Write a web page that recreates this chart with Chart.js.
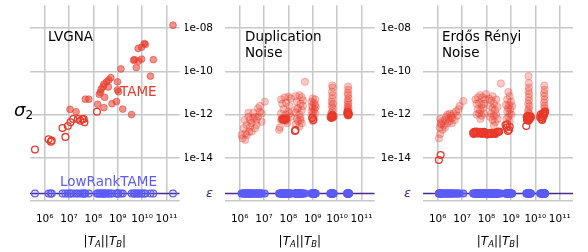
<!DOCTYPE html>
<html>
<head>
<meta charset="utf-8">
<script src="https://cdn.jsdelivr.net/npm/chart.js@4.4.1/dist/chart.umd.min.js"></script>
<style>
  html, body { margin: 0; padding: 0; background: #fff; }
  #wrap { position: relative; width: 588px; height: 252px; overflow: hidden; }
  canvas { position: absolute; top: 0; }
</style>
</head>
<body>
<div id="wrap">
  <canvas id="lvgna" width="185" height="252" style="left:0"></canvas>
  <canvas id="dup" width="195" height="252" style="left:185px"></canvas>
  <canvas id="er" width="208" height="252" style="left:380px"></canvas>
</div>
<script>
// machine epsilon, where LowRankTAME sits
const EPS = 2.22e-16;

const xTicks = [1e6, 1e7, 1e8, 1e9, 1e10, 1e11];
const xTickLabels = ['10⁶', '10⁷', '10⁸', '10⁹', '10¹⁰', '10¹¹'];
const yTicks = [1e-16, EPS, 1e-14, 1e-12, 1e-10, 1e-8];
const yTickLabels = ['', 'ε', '1e-14', '1e-12', '1e-10', '1e-08'];

// [|T_A||T_B|, sigma_2]
const lvgnaFilled = [
  [1.86e11, 1.38e-8], [6.9e9, 1.15e-9], [9.5e9, 1.32e-9], [1.35e10, 1.78e-9], [1.23e10, 1.95e-9],
  [4.9e9, 3.5e-10], [9.5e9, 3.7e-10], [2.9e10, 3.5e-10], [4.5e9, 3.3e-10], [7.2e9, 3.0e-10],
  [5.8e9, 1.5e-10], [1.35e9, 1.3e-10], [2.2e10, 6.0e-11], [5.2e8, 5.1e-11], [3.5e8, 3.3e-11],
  [2.7e8, 2.6e-11], [4.1e8, 1.9e-11], [4.3e8, 4.0e-11], [9.8e8, 3.3e-11], [2.5e8, 1.95e-11],
  [2.1e8, 1.5e-11], [1.95e8, 1.07e-11], [1.75e8, 8.7e-12], [2.9e8, 6.3e-12], [1.07e9, 1.15e-11],
  [9.8e8, 1.4e-11], [4.7e7, 5.2e-12], [6.5e7, 5.2e-12], [1.5e8, 3.0e-12], [2.7e8, 2.1e-12],
  [5.8e8, 3.2e-12], [8.9e8, 4.0e-12], [1.6e9, 1.8e-12], [3.7e9, 1.0e-12], [1.1e7, 1.74e-12],
  [1.95e7, 1.35e-12]
];
const lvgnaOpen = [
  [4.0e5, 2.4e-14], [1.45e6, 7.2e-14], [1.95e6, 6.3e-14], [1.8e6, 5.6e-14], [5.4e6, 2.4e-13],
  [7.1e6, 9.3e-14], [8.9e6, 2.95e-13], [1.15e7, 4.4e-13], [1.48e7, 6.3e-13], [2.3e7, 6.3e-13],
  [2.95e7, 5.2e-13], [3.5e7, 6.3e-13], [4.0e7, 6.3e-13], [4.3e7, 4.4e-13], [1.4e8, 1.35e-12]
];

const dupFilled = [
  // ~1e6 - 1e7
  [1.32e6, 7.94e-14], [1.2e6, 1.15e-13], [1.7e6, 1.35e-13], [1.45e6, 2.34e-13], [1.95e6, 3.31e-13],
  [1.58e6, 5.62e-13], [2.69e6, 5.62e-13], [3.09e6, 3.98e-13], [2.29e6, 1.23e-12], [3.63e6, 1.23e-12],
  [4.27e6, 7.94e-13], [5.75e6, 1.95e-12], [6.76e6, 1.35e-12], [4.9e6, 5.62e-13], [7.94e6, 4.68e-13],
  [1.07e7, 3.98e-12], [3.09e6, 1.62e-13], [1.95e6, 1.15e-13], [2.69e6, 2.75e-13], [4.27e6, 2.34e-13],
  [5.75e6, 7.94e-13], [4.9e6, 3.31e-13], [7.94e6, 1.15e-12], [3.63e6, 6.76e-13], [2.29e6, 7.94e-13],
  [1.7e6, 6.76e-14], [2.45e6, 1.62e-13], [6.76e6, 2.51e-12],
  // ~1e8
  [5.01e7, 5.01e-12], [7.08e7, 6.31e-12], [1.0e8, 6.76e-12], [1.26e8, 5.62e-12], [5.62e7, 3.16e-12],
  [7.94e7, 3.55e-12], [1.12e8, 2.51e-12], [6.31e7, 1.78e-12], [1.0e8, 1.41e-12], [5.01e7, 1.12e-12],
  [7.94e7, 1.0e-12], [5.62e7, 7.08e-13], [7.08e7, 6.31e-13], [8.91e7, 6.31e-13], [6.31e7, 5.62e-13],
  [7.94e7, 5.01e-13], [5.01e7, 5.62e-13], [4.17e7, 2.0e-13], [4.47e7, 2.51e-13], [8.91e7, 3.98e-13],
  [1.26e8, 7.94e-13], [1.12e8, 1.12e-12], [6.61e7, 6.61e-13], [7.59e7, 6.03e-13],
  // ~3e8
  [2.0e8, 7.08e-12], [2.82e8, 7.94e-12], [3.55e8, 6.31e-12], [3.98e8, 4.47e-12], [2.24e8, 3.98e-12],
  [3.16e8, 3.16e-12], [2.51e8, 2.0e-12], [3.55e8, 1.58e-12], [2.0e8, 1.26e-12], [2.82e8, 1.0e-12],
  [3.16e8, 7.08e-13], [2.24e8, 6.31e-13], [2.51e8, 5.01e-13], [2.0e8, 3.55e-13], [2.82e8, 2.82e-13],
  [3.55e8, 3.98e-13], [3.98e8, 2.51e-12], [2.24e8, 1.78e-12], [3.16e8, 5.62e-13], [4.79e8, 3.31e-11],
  // ~1e9
  [1.0e9, 5.62e-12], [1.26e9, 5.01e-12], [8.91e8, 3.98e-12], [1.12e9, 3.55e-12], [1.26e9, 2.82e-12],
  [9.33e8, 2.51e-12], [1.0e9, 2.0e-12], [1.2e9, 1.78e-12], [8.91e8, 1.41e-12], [1.05e9, 1.26e-12],
  [1.26e9, 1.12e-12], [1.0e9, 8.91e-13], [9.33e8, 7.08e-13], [1.12e9, 6.31e-13], [1.0e9, 5.01e-13],
  [1.32e9, 2.24e-12],
  // ~6e9
  [6.31e9, 2.24e-11], [6.61e9, 1.78e-11], [6.17e9, 1.12e-11], [6.46e9, 7.94e-12], [6.31e9, 5.62e-12],
  [6.03e9, 3.98e-12], [6.61e9, 3.16e-12], [6.17e9, 2.51e-12], [6.46e9, 2.0e-12], [6.31e9, 1.41e-12],
  [5.75e9, 1.12e-12], [6.61e9, 1.0e-12], [6.03e9, 8.91e-13], [6.92e9, 8.91e-13], [5.5e9, 7.94e-13],
  [6.31e9, 7.94e-13], [7.24e9, 8.32e-13], [5.89e9, 7.08e-13], [6.76e9, 7.41e-13], [6.17e9, 9.55e-13],
  [5.25e9, 7.59e-13],
  // ~3e10
  [2.82e10, 2.0e-11], [2.88e10, 1.41e-11], [2.75e10, 1.0e-11], [2.82e10, 7.94e-12], [2.95e10, 5.62e-12],
  [2.75e10, 4.47e-12], [2.88e10, 3.55e-12], [2.82e10, 2.82e-12], [2.69e10, 2.24e-12], [2.95e10, 2.0e-12],
  [2.75e10, 1.66e-12], [2.88e10, 1.41e-12], [2.63e10, 1.26e-12], [3.02e10, 1.2e-12], [2.82e10, 1.12e-12],
  [2.69e10, 1.0e-12], [2.95e10, 1.0e-12], [2.82e10, 8.91e-13], [2.57e10, 1.07e-12], [3.09e10, 1.1e-12]
];
const dupOpen = [
  [1.86e8, 1.74e-13], [1.95e8, 1.91e-13],
  [6.31e7, 6.31e-13], [7.08e7, 5.62e-13], [5.62e7, 6.03e-13], [7.94e7, 6.61e-13],
  [1.05e9, 5.62e-13], [9.55e8, 7.08e-13],
  [6.03e9, 8.32e-13], [6.61e9, 7.59e-13], [6.31e9, 9.55e-13], [5.75e9, 7.08e-13],
  [2.75e10, 1.12e-12], [2.88e10, 9.55e-13], [2.69e10, 1.32e-12], [2.95e10, 1.05e-12]
];

const erFilled = [
  // ~1e6 - 1e7
  [1.12e6, 7.94e-14], [1.26e6, 1.26e-13], [1.2e6, 2.51e-13], [1.41e6, 3.55e-13], [1.58e6, 5.01e-13],
  [1.26e6, 6.31e-13], [1.78e6, 3.16e-13], [2.0e6, 5.62e-13], [2.24e6, 7.94e-13], [2.51e6, 3.98e-13],
  [2.82e6, 6.31e-13], [3.16e6, 5.01e-13], [3.55e6, 8.91e-13], [3.98e6, 7.08e-13], [4.47e6, 1.12e-12],
  [5.01e6, 5.62e-13], [6.31e6, 8.91e-13], [5.62e6, 1.41e-12], [7.08e6, 1.78e-12], [7.94e6, 2.51e-12],
  [1.12e7, 4.27e-12], [1.58e6, 2.0e-13], [2.0e6, 2.51e-13], [2.51e6, 1.0e-12], [1.32e6, 3.98e-13],
  [3.16e6, 1.12e-12], [3.8e6, 3.98e-13],
  // ~6e7
  [3.55e7, 5.01e-12], [4.47e7, 6.31e-12], [5.62e7, 7.94e-12], [7.08e7, 6.31e-12], [8.91e7, 5.01e-12],
  [3.98e7, 3.16e-12], [5.01e7, 3.55e-12], [6.31e7, 2.82e-12], [7.94e7, 3.16e-12], [4.47e7, 1.78e-12],
  [5.62e7, 1.58e-12], [7.08e7, 2.0e-12], [3.98e7, 1.0e-12], [5.01e7, 1.12e-12], [6.31e7, 8.91e-13],
  [7.94e7, 1.12e-12], [5.62e7, 6.31e-13], [9.55e7, 8.91e-12],
  // ~2e8
  [1.26e8, 5.62e-12], [1.58e8, 4.47e-12], [2.0e8, 3.16e-12], [2.51e8, 5.01e-12], [1.41e8, 2.51e-12],
  [1.78e8, 2.0e-12], [2.24e8, 1.58e-12], [2.82e8, 2.24e-12], [1.58e8, 1.12e-12], [2.0e8, 8.91e-13],
  [2.51e8, 1.0e-12], [1.78e8, 5.62e-13], [2.24e8, 4.47e-13], [2.0e8, 3.16e-13], [2.82e8, 6.31e-13],
  [1.41e8, 7.94e-13], [3.89e8, 2.75e-11], [1.78e8, 7.08e-12],
  // ~8e8
  [7.94e8, 1.12e-11], [8.91e8, 7.08e-12], [7.08e8, 5.01e-12], [1.0e9, 3.98e-12], [8.32e8, 2.82e-12],
  [7.59e8, 2.0e-12], [9.55e8, 1.78e-12], [7.08e8, 1.41e-12], [8.91e8, 1.12e-12], [1.05e9, 1.0e-12],
  [7.94e8, 7.94e-13], [6.61e8, 6.31e-13], [8.91e8, 5.01e-13], [1.12e9, 2.51e-12], [6.31e8, 2.82e-12],
  // ~5e9
  [5.25e9, 6.03e-11], [5.37e9, 2.82e-11], [5.5e9, 1.78e-11], [5.25e9, 1.26e-11], [5.62e9, 8.91e-12],
  [5.37e9, 6.31e-12], [5.5e9, 4.47e-12], [5.13e9, 3.16e-12], [5.75e9, 2.51e-12], [5.37e9, 1.78e-12],
  [5.01e9, 1.41e-12], [5.62e9, 1.12e-12],
  // ~2e10
  [2.34e10, 2.24e-11], [2.4e10, 1.41e-11], [2.29e10, 1.0e-11], [2.34e10, 7.08e-12], [2.4e10, 5.01e-12],
  [2.29e10, 3.55e-12], [2.34e10, 2.51e-12], [2.4e10, 2.0e-12]
];
const erOpen = [
  [1.32e6, 1.35e-14], [1.12e6, 7.94e-15],
  [2.82e7, 1.41e-13], [3.16e7, 1.58e-13], [3.55e7, 1.41e-13], [3.98e7, 1.51e-13], [4.47e7, 1.32e-13],
  [5.01e7, 1.48e-13], [5.62e7, 1.38e-13], [6.31e7, 1.51e-13], [7.08e7, 1.41e-13], [7.94e7, 1.58e-13],
  [8.91e7, 1.45e-13], [3.02e7, 1.26e-13], [3.8e7, 1.66e-13], [5.25e7, 1.58e-13], [6.61e7, 1.26e-13],
  [1.07e8, 1.2e-13], [1.2e8, 1.26e-13], [1.35e8, 1.32e-13], [1.51e8, 1.26e-13], [1.7e8, 1.35e-13],
  [1.91e8, 1.41e-13], [2.14e8, 1.38e-13], [2.4e8, 1.48e-13], [2.69e8, 1.51e-13], [3.02e8, 1.58e-13],
  [3.31e8, 1.66e-13], [1.15e8, 1.38e-13], [1.58e8, 1.45e-13], [2.29e8, 1.26e-13],
  [6.03e8, 3.31e-13], [8.91e8, 2.75e-13], [7.59e8, 1.74e-13], [7.08e8, 3.55e-13], [8.32e8, 2.0e-13],
  [6.61e8, 2.51e-13],
  [4.47e9, 7.94e-13], [5.01e9, 8.91e-13], [5.62e9, 7.94e-13], [6.31e9, 8.32e-13], [4.79e9, 6.31e-13],
  [5.37e9, 6.61e-13], [6.03e9, 7.08e-13], [4.57e9, 5.62e-13], [5.25e9, 5.25e-13], [5.75e9, 6.03e-13],
  [6.61e9, 7.59e-13], [4.27e9, 2.95e-13],
  [1.66e10, 1.0e-12], [1.82e10, 7.94e-13], [2.0e10, 1.12e-12], [2.19e10, 8.91e-13], [2.4e10, 1.26e-12],
  [1.78e10, 6.31e-13], [2.0e10, 7.08e-13], [2.29e10, 1.0e-12], [2.51e10, 1.41e-12], [1.58e10, 7.59e-13],
  [1.91e10, 5.62e-13], [2.14e10, 1.2e-12]
];

const X_MIN = 2.5e5, X_MAX = 3.5e11;
const Y_MIN = 1e-16, Y_MAX = 1.15e-7;

const FONT = "'DejaVu Sans', sans-serif";
const RED = '#e8392a';
const BLUE = '#5b5bf5';
const PURPLE = '#4b2a8c';
const GRID = '#c8c8c8';

const toPt = p => ({ x: p[0], y: p[1] });

function xScale() {
  return {
    type: 'logarithmic', min: X_MIN, max: X_MAX, bounds: 'data',
    border: { display: false },
    grid: { color: GRID, lineWidth: 1.5, drawTicks: false },
    afterBuildTicks: s => { s.ticks = xTicks.map(v => ({ value: v })); },
    afterFit: s => { s.height = 51; s.paddingLeft = 0; s.paddingRight = 0; },
    ticks: {
      padding: 12, color: '#000', autoSkip: false, maxRotation: 0,
      font: { family: FONT, size: 10.5 },
      callback: (v, i) => xTickLabels[i]
    }
  };
}

function yScale(showLabels, width) {
  const isEps = c => c.tick && c.tick.value === EPS;
  return {
    type: 'logarithmic', min: Y_MIN, max: Y_MAX, bounds: 'data',
    border: { display: false },
    grid: { drawTicks: false, lineWidth: 1.5, color: c => isEps(c) ? 'rgba(0,0,0,0)' : GRID },
    afterBuildTicks: s => { s.ticks = yTicks.map(v => ({ value: v })); },
    // labels sit well inside the range, so no extra room above/below
    afterFit: s => { s.width = width; s.paddingTop = 0; s.paddingBottom = 0; },
    ticks: {
      display: showLabels, padding: 12, autoSkip: false,
      callback: (v, i) => yTickLabels[i],
      color: c => isEps(c) ? PURPLE : '#000',
      font: c => isEps(c) ? { family: FONT, size: 13, style: 'italic' } : { family: FONT, size: 10.5 }
    }
  };
}

// draws notes, the x title with subscripts and optionally sigma_2
const textPlugin = {
  id: 'panelText',
  afterDraw(chart, args, opts) {
    const ctx = chart.ctx;
    const a = chart.chartArea;
    ctx.save();
    ctx.textBaseline = 'middle';
    ctx.textAlign = 'left';
    (opts.notes || []).forEach(n => {
      ctx.font = `13.5px ${FONT}`;
      ctx.fillStyle = n.color;
      n.lines.forEach((t, i) => ctx.fillText(t, n.x, n.y + i * 15.5));
    });

    // |T_A||T_B|
    const parts = [
      ['|', '12px', 0], ['T', 'italic 12px', 0], ['A', 'italic 8.5px', 3],
      ['||', '12px', 0], ['T', 'italic 12px', 0], ['B', 'italic 8.5px', 3], ['|', '12px', 0]
    ];
    let w = 0;
    parts.forEach(p => { ctx.font = `${p[1]} ${FONT}`; w += ctx.measureText(p[0]).width; });
    let x = (a.left + a.right) / 2 - w / 2;
    ctx.fillStyle = '#000';
    parts.forEach(p => {
      ctx.font = `${p[1]} ${FONT}`;
      ctx.fillText(p[0], x, 242 + p[2]);
      x += ctx.measureText(p[0]).width;
    });

    if (opts.sigma) {
      ctx.font = `italic 18px ${FONT}`;
      ctx.fillText('σ', 14, 111);
      const sw = ctx.measureText('σ').width;
      ctx.font = `12px ${FONT}`;
      ctx.fillText('2', 14 + sw, 116);
    }
    ctx.restore();
  }
};

function makePanel(id, filled, open, cfg) {
  const all = filled.concat(open);
  new Chart(document.getElementById(id), {
    type: 'scatter',
    data: {
      datasets: [
        {
          data: open.map(toPt), order: 1,
          pointRadius: 3.4, pointBorderWidth: 1.3,
          pointBackgroundColor: 'rgba(0,0,0,0)', pointBorderColor: RED
        },
        {
          data: filled.map(toPt), order: 2,
          pointRadius: cfg.radius, pointBorderWidth: 1,
          pointBackgroundColor: cfg.fillColor, pointBorderColor: cfg.fillColor
        },
        {
          // LowRankTAME ran on the same instances, all at machine epsilon
          data: all.map(p => ({ x: p[0], y: EPS })), order: 3,
          pointRadius: 3.4, pointBorderWidth: 1.2,
          pointBackgroundColor: cfg.lowFill, pointBorderColor: BLUE
        },
        {
          data: [{ x: X_MIN, y: EPS }, { x: X_MAX, y: EPS }], order: 4,
          showLine: true, borderColor: PURPLE, borderWidth: 1.5, pointRadius: 0
        }
      ]
    },
    options: {
      responsive: false,
      animation: false,
      events: [],
      layout: { padding: { top: 5, right: cfg.right, left: 0, bottom: 0 } },
      scales: { x: xScale(), y: yScale(cfg.yLabels, cfg.yWidth) },
      plugins: {
        legend: { display: false },
        tooltip: { enabled: false },
        panelText: { notes: cfg.notes, sigma: cfg.sigma }
      }
    },
    plugins: [textPlugin]
  });
}

makePanel('lvgna', lvgnaFilled, lvgnaOpen, {
  fillColor: 'rgba(232,57,42,0.55)', lowFill: 'rgba(91,91,245,0.12)', radius: 3.4,
  right: 5, yWidth: 30, yLabels: false, sigma: true,
  notes: [
    { lines: ['LVGNA'], x: 48, y: 37, color: '#000' },
    { lines: ['TAME'], x: 120, y: 92, color: RED },
    { lines: ['LowRankTAME'], x: 60, y: 182, color: BLUE }
  ]
});

makePanel('dup', dupFilled, dupOpen, {
  fillColor: 'rgba(232,57,42,0.28)', lowFill: 'rgba(91,91,245,0.6)', radius: 3.7,
  right: 3, yWidth: 40, yLabels: true, sigma: false,
  notes: [{ lines: ['Duplication', 'Noise'], x: 60, y: 37.5, color: '#000' }]
});

makePanel('er', erFilled, erOpen, {
  fillColor: 'rgba(232,57,42,0.28)', lowFill: 'rgba(91,91,245,0.6)', radius: 3.7,
  right: 15, yWidth: 43, yLabels: true, sigma: false,
  notes: [{ lines: ['Erdős Rényi', 'Noise'], x: 62, y: 37.5, color: '#000' }]
});
</script>
</body>
</html>
